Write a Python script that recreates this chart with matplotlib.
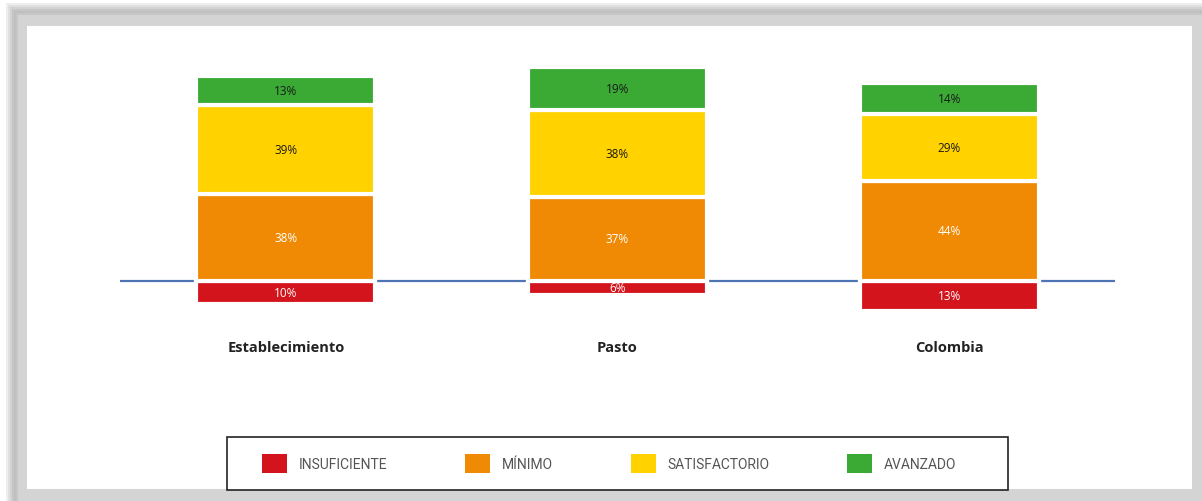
import matplotlib.pyplot as plt
from matplotlib.patches import Rectangle, Patch
from matplotlib import font_manager

plt.rcParams['font.family'] = ['Open Sans', 'DejaVu Sans']

categories = ['Establecimiento', 'Pasto', 'Colombia']
levels = ['INSUFICIENTE', 'MÍNIMO', 'SATISFACTORIO', 'AVANZADO']
insuficiente = [10, 6, 13]
minimo = [38, 37, 44]
satisfactorio = [39, 38, 29]
avanzado = [13, 19, 14]

colors = ['#D3141D', '#F08A05', '#FFD200', '#3AAA35']
text_colors = ['white', 'white', '#1a1a1a', '#1a1a1a']

names = {f.name for f in font_manager.fontManager.ttflist}
narrow = 'Liberation Sans Narrow' if 'Liberation Sans Narrow' in names else 'Roboto'

W, H = 1202, 502
fig = plt.figure(figsize=(W / 100, H / 100), dpi=100)
fig.patch.set_facecolor('white')

# soft gray frame around the chart
def px_rect(x0, y0, x1, y1, **kw):
    r = Rectangle((x0 / W, 1 - y1 / H), (x1 - x0) / W, (y1 - y0) / H,
                  transform=fig.transFigure, **kw)
    fig.add_artist(r)

shades = ['#EEEEEE', '#E0E0E0', '#D2D2D2', '#C6C6C6', '#C0C0C0', '#C6C6C6', '#D4D4D4']
for i, c in enumerate(shades):
    px_rect(6 + 2 * i, 4 + 2 * i, W + 10 - i, H + 10, facecolor=c, edgecolor='none', zorder=-10 + i * 0.01)
px_rect(27, 27, 1192, 490, facecolor='white', edgecolor='none', zorder=-9)

ax = fig.add_axes([120 / W, 1 - 330 / H, 995 / W, 290 / H])
ax.set_facecolor('none')
ax.patch.set_alpha(0)

x = range(len(categories))
width = 0.54
series_up = [minimo, satisfactorio, avanzado]

ax.bar(x, [-v for v in insuficiente], width, color=colors[0], edgecolor='white', linewidth=3, zorder=3)
bottom = [0, 0, 0]
for vals, col in zip(series_up, colors[1:]):
    ax.bar(x, vals, width, bottom=bottom, color=col, edgecolor='white', linewidth=3, zorder=3)
    bottom = [b + v for b, v in zip(bottom, vals)]

# labels
for i in x:
    ax.text(i, -insuficiente[i] / 2, f'{insuficiente[i]}%', ha='center', va='center',
            fontsize=8.5, color=text_colors[0], zorder=4)
    b = 0
    for vals, tc in zip(series_up, text_colors[1:]):
        ax.text(i, b + vals[i] / 2, f'{vals[i]}%', ha='center', va='center',
                fontsize=8.5, color=tc, zorder=4)
        b += vals[i]

ax.axhline(0, color='#4F74B3', linewidth=1.6, zorder=2)

ax.set_xlim(-0.5, 2.5)
ax.set_ylim(-21.05, 106.1)
ax.set_xticks(list(x))
ax.set_xticklabels(categories, fontsize=10.5, fontweight='bold', color='#222222')
ax.tick_params(axis='x', length=0, pad=8)
ax.set_yticks([])
for s in ax.spines.values():
    s.set_visible(False)

# legend with its own box
px_rect(227, 438, 1008, 491, facecolor='white', edgecolor='#222222', linewidth=1.2, zorder=1)
handles = [Patch(facecolor=c, edgecolor='none') for c in colors]
leg = fig.legend(handles, levels, loc='center', ncol=4,
                 bbox_to_anchor=(609 / W, 1 - 464.5 / H),
                 frameon=False,
                 prop={'family': [narrow, 'DejaVu Sans'], 'size': 10},
                 handlelength=1.8, handleheight=1.8, handletextpad=0.85,
                 borderpad=0, borderaxespad=0, columnspacing=5.6)
leg.set_zorder(2)
for t in leg.get_texts():
    t.set_color('#555555')

fig.savefig('out.png', dpi=100)
